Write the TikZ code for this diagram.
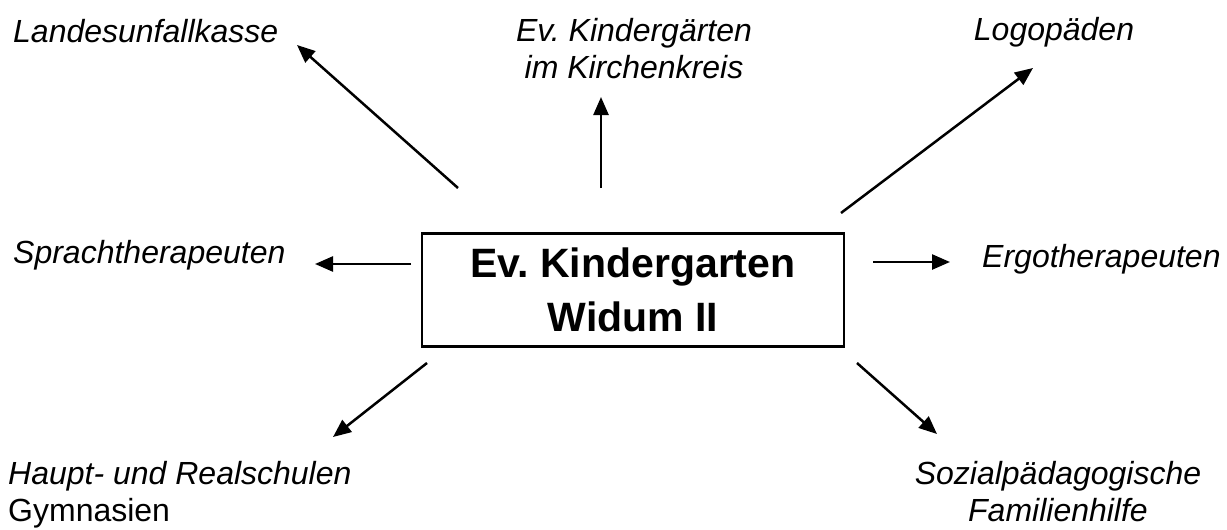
\documentclass[tikz,border=0pt]{standalone}
\usepackage{fontspec}
\setmainfont{Liberation Sans}
\usetikzlibrary{arrows.meta}
\tikzset{
  partner/.style={inner sep=0pt, font=\fontsize{32}{37}\selectfont\itshape},
  centre/.style={draw, line width=2.5pt, minimum width=422pt, minimum height=113pt,
    align=center, font=\fontsize{41}{54}\selectfont\bfseries},
  link/.style={-{Triangle[length=18pt, width=15pt]}, line width=2.5pt}
}
\colorlet{linecol}{black}
\frenchspacing

\begin{document}
\begin{tikzpicture}[x=1pt, y=-1pt]

  % Page frame.
  \useasboundingbox (0,0) rectangle (1227,530);

  % Centre box.
  \node[centre] (kiga) at (633,290) {Ev. Kindergarten\\Widum II};

  % Partners (multi-line nodes sit on their last baseline).
  \node[partner, anchor=base west] (luk) at (13,42) {Landesunfallkasse};
  \node[partner, anchor=base, align=center] (kreis) at (634,78)
    {Ev. Kindergärten\\im Kirchenkreis};
  \node[partner, anchor=base] (logo) at (1054,40) {Logopäden};
  \node[partner, anchor=base west] (sprach) at (13,263) {Sprachtherapeuten};
  \node[partner, anchor=base west] (ergo) at (982,267) {Ergotherapeuten};
  \node[partner, anchor=base west, align=left] (schule) at (8,521)
    {Haupt- und Realschulen\\\upshape Gymnasien};
  \node[partner, anchor=base, align=center] (spfh) at (1058,521)
    {Sozialpädagogische\\Familienhilfe};

  % Arrow ends.
  \coordinate (luk-s) at (458,188);   \coordinate (luk-t) at (297,45);
  \coordinate (kreis-s) at (601,188); \coordinate (kreis-t) at (601,97);
  \coordinate (logo-s) at (841,213);  \coordinate (logo-t) at (1033,68);
  \coordinate (sprach-s) at (411,264); \coordinate (sprach-t) at (315,264);
  \coordinate (ergo-s) at (873,262);  \coordinate (ergo-t) at (950,262);
  \coordinate (schule-s) at (427,363); \coordinate (schule-t) at (333,437);
  \coordinate (spfh-s) at (857,363);  \coordinate (spfh-t) at (937,434);

  % Arrows.
  \foreach \n in {luk,kreis,logo,sprach,ergo,schule,spfh} {
    \draw[link, linecol] (\n-s) -- (\n-t);
  }

\end{tikzpicture}
\end{document}
